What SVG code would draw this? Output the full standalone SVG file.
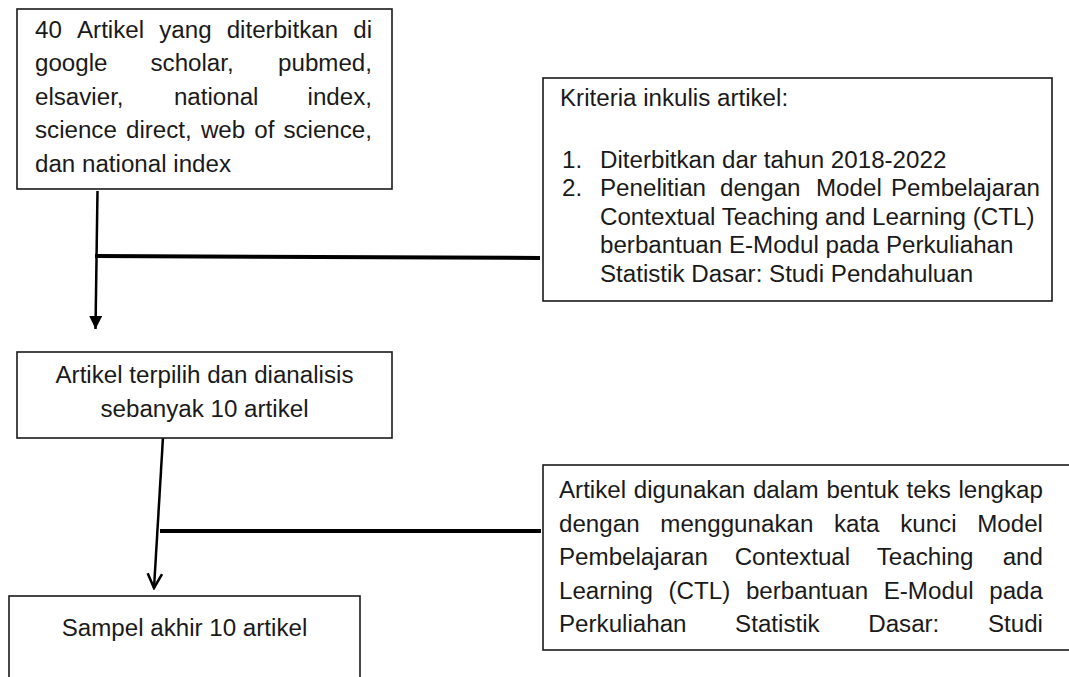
<svg xmlns="http://www.w3.org/2000/svg" width="1069" height="677" viewBox="0 0 1069 677">
<style>
.box{fill:#fff;stroke:#1a1a1a;stroke-width:1.6}
.t{font-family:"Liberation Sans",Arial,sans-serif;font-size:23px;fill:#1a1a1a}
.e{text-anchor:end}
.m{text-anchor:middle}
.ln{fill:none;stroke:#000;stroke-width:2.5}
.thick{fill:none;stroke:#000;stroke-width:4}
</style>
<defs>
<marker id="tri" viewBox="0 0 10 10" refX="10" refY="5" markerWidth="13" markerHeight="13" markerUnits="userSpaceOnUse" orient="auto"><path d="M0,0 L10,5 L0,10 z" fill="#000"/></marker>
<marker id="vee" viewBox="0 0 10 10" refX="9" refY="5" markerWidth="18" markerHeight="18" markerUnits="userSpaceOnUse" orient="auto"><path d="M1,1 L9,5 L1,9" fill="none" stroke="#000" stroke-width="1.4"/></marker>
</defs>
<g id="connectors">
<path class="ln" d="M97.5,191 L95.5,329" marker-end="url(#tri)"/>
<path class="thick" d="M95,256 L540,258"/>
<path class="ln" d="M163,437 L154,588" marker-end="url(#vee)"/>
<path class="thick" d="M160,531 L541,531"/>
</g>
<g id="node-sources">
<rect class="box" x="17" y="9" width="375" height="180"/>
<g transform="scale(1.05 1)" class="t">
<text x="33.33" y="38">40</text><text x="73.33" y="38">Artikel</text><text x="151.62" y="38">yang</text><text x="215.9" y="38">diterbitkan</text><text class="e" x="354.29" y="38">di</text>
<text x="33.33" y="71.5">google</text><text x="143.33" y="71.5">scholar,</text><text class="e" x="354.29" y="71.5">pubmed,</text>
<text x="33.33" y="105">elsavier,</text><text x="165.62" y="105">national</text><text class="e" x="354.29" y="105">index,</text>
<text x="33.33" y="138.5">science</text><text x="120" y="138.5">direct,</text><text x="191.33" y="138.5">web</text><text x="242.19" y="138.5">of</text><text class="e" x="354.29" y="138.5">science,</text>
<text x="33.33" y="172">dan national index</text>
</g>
</g>
<g id="node-kriteria">
<rect class="box" x="543" y="78" width="509" height="223"/>
<g transform="scale(1.05 1)" class="t">
<text x="533.33" y="106">Kriteria inkulis artikel:</text>
<text x="535.24" y="168">1.</text><text x="571.43" y="168">Diterbitkan dar tahun 2018-2022</text>
<text x="535.24" y="196.5">2.</text><text x="571.43" y="196.5">Penelitian</text><text x="685.71" y="196.5">dengan</text><text x="777.14" y="196.5">Model</text><text class="e" x="990.48" y="196.5">Pembelajaran</text>
<text x="571.43" y="225">Contextual Teaching and Learning (CTL)</text>
<text x="571.43" y="253.5">berbantuan E-Modul pada Perkuliahan</text>
<text x="571.43" y="282">Statistik Dasar: Studi Pendahuluan</text>
</g>
</g>
<g id="node-terpilih">
<rect class="box" x="17" y="352" width="375" height="86"/>
<g transform="scale(1.05 1)" class="t m">
<text x="194.76" y="383">Artikel terpilih dan dianalisis</text>
<text x="194.76" y="417">sebanyak 10 artikel</text>
</g>
</g>
<g id="node-teks-lengkap">
<rect class="box" x="543" y="465" width="540" height="185"/>
<g transform="scale(1.05 1)" class="t">
<text x="532.38" y="498">Artikel</text><text x="603.62" y="498">digunakan</text><text x="717.05" y="498">dalam</text><text x="787.05" y="498">bentuk</text><text x="863.43" y="498">teks</text><text class="e" x="993.33" y="498">lengkap</text>
<text x="532.38" y="532">dengan</text><text x="628.86" y="532">menggunakan</text><text x="794.19" y="532">kata</text><text x="857.33" y="532">kunci</text><text class="e" x="993.33" y="532">Model</text>
<text x="532.38" y="565">Pembelajaran</text><text x="699.71" y="565">Contextual</text><text x="835.05" y="565">Teaching</text><text class="e" x="993.33" y="565">and</text>
<text x="532.38" y="599">Learning</text><text x="636.76" y="599">(CTL)</text><text x="710.38" y="599">berbantuan</text><text x="841.62" y="599">E-Modul</text><text class="e" x="993.33" y="599">pada</text>
<text x="532.38" y="632">Perkuliahan</text><text x="700.1" y="632">Statistik</text><text x="826.86" y="632">Dasar:</text><text class="e" x="993.33" y="632">Studi</text>
</g>
</g>
<g id="node-sampel">
<rect class="box" x="9" y="596" width="351" height="100"/>
<g transform="scale(1.05 1)" class="t m">
<text x="175.71" y="636">Sampel akhir 10 artikel</text>
</g>
</g>
</svg>
